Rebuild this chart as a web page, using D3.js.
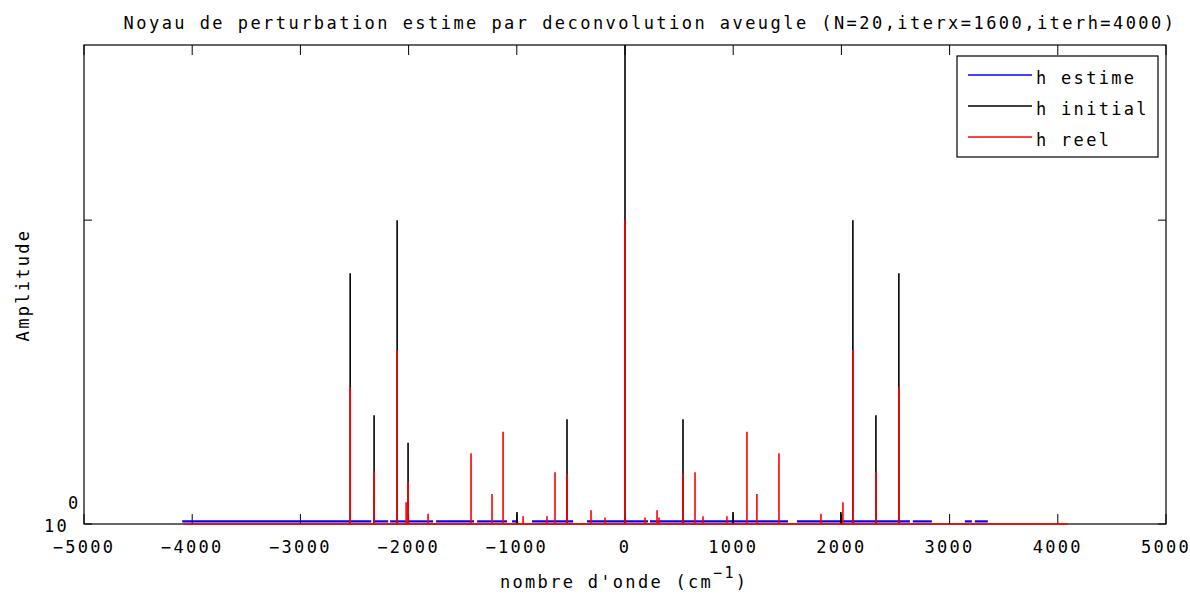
<!DOCTYPE html>
<html>
<head>
<meta charset="utf-8">
<script src="https://cdn.jsdelivr.net/npm/d3@7"></script>
<style>
  body { margin: 0; background: #fff; }
  text { font-family: "DejaVu Sans Mono", monospace; font-size: 17px; letter-spacing: 2.3px; fill: #000; }
</style>
</head>
<body>
<svg id="chart" width="1190" height="594"></svg>
<script>
//data: wavenumber (cm-1) and amplitude
var initialX = [-2540, -2319, -2106, -2005, -998, -536, 0, 536, 998, 1995, 2106, 2319, 2531];
var initialY = [6.69, 2.28, 10, 1.85, 1.095, 2.21, 50, 2.21, 1.095, 1.095, 10, 2.28, 6.69];

var reelX = [-2540, -2319, -2106, -2023, -2005, -1820, -1423, -1229, -1127, -942, -721, -647, -536, -314, -185,
  0, 185, 296, 314, 536, 647, 721, 942, 1127, 1219, 1423, 1811, 2014, 2106, 2319, 2531];
var reelY = [2.82, 1.49, 3.74, 1.18, 1.375, 1.08, 1.71, 1.255, 2.01, 1.06, 1.06, 1.48, 1.46, 1.11, 1.05,
  10, 1.05, 1.11, 1.05, 1.46, 1.48, 1.06, 1.06, 2.01, 1.255, 1.71, 1.08, 1.18, 3.74, 1.48, 2.82];
var reelRange = [-4083, 4092];

//estimated kernel stays just above 1, with gaps
var estimeSegments = [[-4092, -2346], [-2328, -2189], [-2171, -2023], [-2005, -1774], [-1746, -1395],
  [-1367, -1090], [-1044, -988], [-859, -480], [-351, 212], [231, 1506], [1589, 2633], [2660, 2836],
  [3141, 3206], [3233, 3353]];
var estimeLevel = 1.02;

var xTicks = [-5000, -4000, -3000, -2000, -1000, 0, 1000, 2000, 3000, 4000, 5000];
var yTicks = [1, 10];

var fv = { left: 84, right: 1166, top: 45, bottom: 524 };

var svg = d3.select('#chart');

var x = d3.scaleLinear().domain([-5000, 5000]).range([fv.left, fv.right]);
var y = d3.scaleLog().domain([1, 37.7]).range([fv.bottom, fv.top]);

svg.append('defs').append('clipPath').attr('id', 'clip')
  .append('rect')
  .attr('x', fv.left).attr('y', fv.top)
  .attr('width', fv.right - fv.left).attr('height', fv.bottom - fv.top + 2);

//axes frame
svg.append('rect')
  .attr('x', fv.left).attr('y', fv.top)
  .attr('width', fv.right - fv.left).attr('height', fv.bottom - fv.top)
  .style('fill', 'none').style('stroke', '#000').style('stroke-width', 1.2);

//x ticks, bottom and top
xTicks.forEach(function(t) {
  svg.append('line').attr('x1', x(t)).attr('x2', x(t)).attr('y1', fv.bottom).attr('y2', fv.bottom - 10)
    .style('stroke', '#000');
  svg.append('line').attr('x1', x(t)).attr('x2', x(t)).attr('y1', fv.top).attr('y2', fv.top + 10)
    .style('stroke', '#000');
  svg.append('text').attr('x', x(t)).attr('y', 553).attr('text-anchor', 'middle')
    .text(t < 0 ? '\u2212' + Math.abs(t) : t);
});

//y ticks, left and right
yTicks.forEach(function(t) {
  svg.append('line').attr('x1', fv.left).attr('x2', fv.left + 8).attr('y1', y(t)).attr('y2', y(t))
    .style('stroke', '#000');
  svg.append('line').attr('x1', fv.right).attr('x2', fv.right - 8).attr('y1', y(t)).attr('y2', y(t))
    .style('stroke', '#000');
});
svg.append('text').attr('x', 44).attr('y', y(1) + 8).text('10');
svg.append('text').attr('x', 68).attr('y', y(1) - 15).text('0');

var plot = svg.append('g').attr('clip-path', 'url(#clip)');

//h estime (blue)
estimeSegments.forEach(function(s) {
  plot.append('line')
    .attr('x1', x(s[0])).attr('x2', x(s[1]))
    .attr('y1', y(estimeLevel)).attr('y2', y(estimeLevel))
    .style('stroke', '#0000ff').style('stroke-width', 2.2);
});

//h initial (black spikes)
plot.selectAll('.initial')
  .data(initialX)
  .enter().append('line')
  .attr('class', 'initial')
  .attr('x1', function(d) { return x(d); })
  .attr('x2', function(d) { return x(d); })
  .attr('y1', y(1))
  .attr('y2', function(d, i) { return y(initialY[i]); })
  .style('stroke', '#000').style('stroke-width', 1.6);

//h reel (red): baseline plus spikes as one path
var reelPts = [[reelRange[0], 1]];
reelX.forEach(function(d, i) {
  reelPts.push([d, 1], [d, reelY[i]], [d, 1]);
});
reelPts.push([reelRange[1], 1]);
plot.append('path')
  .datum(reelPts)
  .attr('d', d3.line().x(function(d) { return x(d[0]); }).y(function(d) { return y(d[1]); }))
  .style('fill', 'none').style('stroke', '#ff0000').style('stroke-width', 1.6);

//title and labels
svg.append('text').attr('x', 650).attr('y', 29).attr('text-anchor', 'middle')
  .style('letter-spacing', '2.45px')
  .text('Noyau de perturbation estime par deconvolution aveugle (N=20,iterx=1600,iterh=4000)');

var xl = svg.append('text').attr('x', 500).attr('y', 588);
xl.append('tspan').text("nombre d'onde (cm");
xl.append('tspan').attr('dy', -10).style('font-size', '15px').text('\u22121');
xl.append('tspan').attr('dy', 10).text(')');

svg.append('text')
  .attr('transform', 'translate(29,285) rotate(-90)')
  .attr('text-anchor', 'middle')
  .text('Amplitude');

//legend
var legendNames = ['h estime', 'h initial', 'h reel'];
var legendColors = ['#0000ff', '#000000', '#ff0000'];
var lg = svg.append('g');
lg.append('rect').attr('x', 957).attr('y', 56).attr('width', 201).attr('height', 101)
  .style('fill', '#fff').style('stroke', '#000').style('stroke-width', 1.2);
legendNames.forEach(function(n, i) {
  var ly = 75 + i * 31;
  lg.append('line').attr('x1', 968).attr('x2', 1032).attr('y1', ly).attr('y2', ly)
    .style('stroke', legendColors[i]).style('stroke-width', 1.6);
  lg.append('text').attr('x', 1036).attr('y', ly + 9).text(n);
});
</script>
</body>
</html>
